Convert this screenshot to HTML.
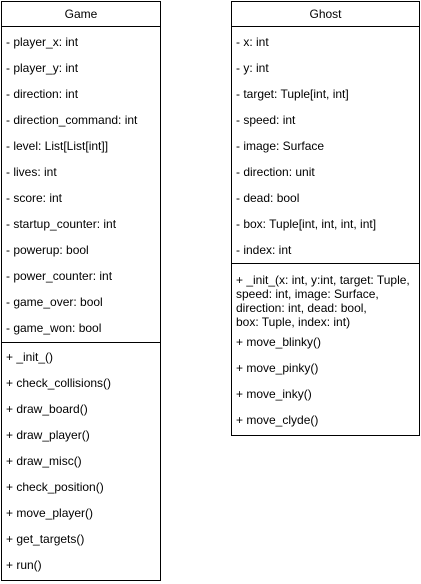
<!DOCTYPE html>
<html><head><style>
body{margin:0;width:421px;height:584px;background:#fff;position:relative;font-family:"Liberation Sans",Arial,sans-serif;font-size:12px;color:#000;overflow:hidden}
.b{position:absolute;border:1px solid #000;box-sizing:border-box}
.l{position:absolute;height:1px;background:#000}
.t{position:absolute;line-height:14px;white-space:nowrap}
.h{position:absolute;text-align:center;line-height:14px}
</style></head><body>
<div class="b" style="left:1px;top:1px;width:160px;height:580px"></div>
<div class="l" style="left:1px;top:26px;width:160px"></div>
<div class="l" style="left:1px;top:342px;width:160px"></div>
<div class="h" style="left:1px;width:160px;top:7px">Game</div>
<div class="t" style="left:6px;top:35px">- player_x: int</div>
<div class="t" style="left:6px;top:61px">- player_y: int</div>
<div class="t" style="left:6px;top:87px">- direction: int</div>
<div class="t" style="left:6px;top:113px">- direction_command: int</div>
<div class="t" style="left:6px;top:139px">- level: List[List[int]]</div>
<div class="t" style="left:6px;top:165px">- lives: int</div>
<div class="t" style="left:6px;top:191px">- score: int</div>
<div class="t" style="left:6px;top:217px">- startup_counter: int</div>
<div class="t" style="left:6px;top:243px">- powerup: bool</div>
<div class="t" style="left:6px;top:269px">- power_counter: int</div>
<div class="t" style="left:6px;top:295px">- game_over: bool</div>
<div class="t" style="left:6px;top:321px">- game_won: bool</div>
<div class="t" style="left:6px;top:350px">+ _init_()</div>
<div class="t" style="left:6px;top:376px">+ check_collisions()</div>
<div class="t" style="left:6px;top:402px">+ draw_board()</div>
<div class="t" style="left:6px;top:428px">+ draw_player()</div>
<div class="t" style="left:6px;top:454px">+ draw_misc()</div>
<div class="t" style="left:6px;top:480px">+ check_position()</div>
<div class="t" style="left:6px;top:506px">+ move_player()</div>
<div class="t" style="left:6px;top:532px">+ get_targets()</div>
<div class="t" style="left:6px;top:558px">+ run()</div>

<div class="b" style="left:231px;top:1px;width:189px;height:435px"></div>
<div class="l" style="left:231px;top:26px;width:189px"></div>
<div class="l" style="left:231px;top:263px;width:189px"></div>
<div class="h" style="left:231px;width:189px;top:7px">Ghost</div>
<div class="t" style="left:236px;top:35px">- x: int</div>
<div class="t" style="left:236px;top:61px">- y: int</div>
<div class="t" style="left:236px;top:87px">- target: Tuple[int, int]</div>
<div class="t" style="left:236px;top:113px">- speed: int</div>
<div class="t" style="left:236px;top:139px">- image: Surface</div>
<div class="t" style="left:236px;top:165px">- direction: unit</div>
<div class="t" style="left:236px;top:191px">- dead: bool</div>
<div class="t" style="left:236px;top:217px">- box: Tuple[int, int, int, int]</div>
<div class="t" style="left:236px;top:243px">- index: int</div>
<div class="t" style="left:236px;top:273px">+ _init_(x: int, y:int, target: Tuple,<br>speed: int, image: Surface,<br>direction: int, dead: bool,<br>box: Tuple, index: int)</div>
<div class="t" style="left:236px;top:335px">+ move_blinky()</div>
<div class="t" style="left:236px;top:361px">+ move_pinky()</div>
<div class="t" style="left:236px;top:387px">+ move_inky()</div>
<div class="t" style="left:236px;top:413px">+ move_clyde()</div>
</body></html>
